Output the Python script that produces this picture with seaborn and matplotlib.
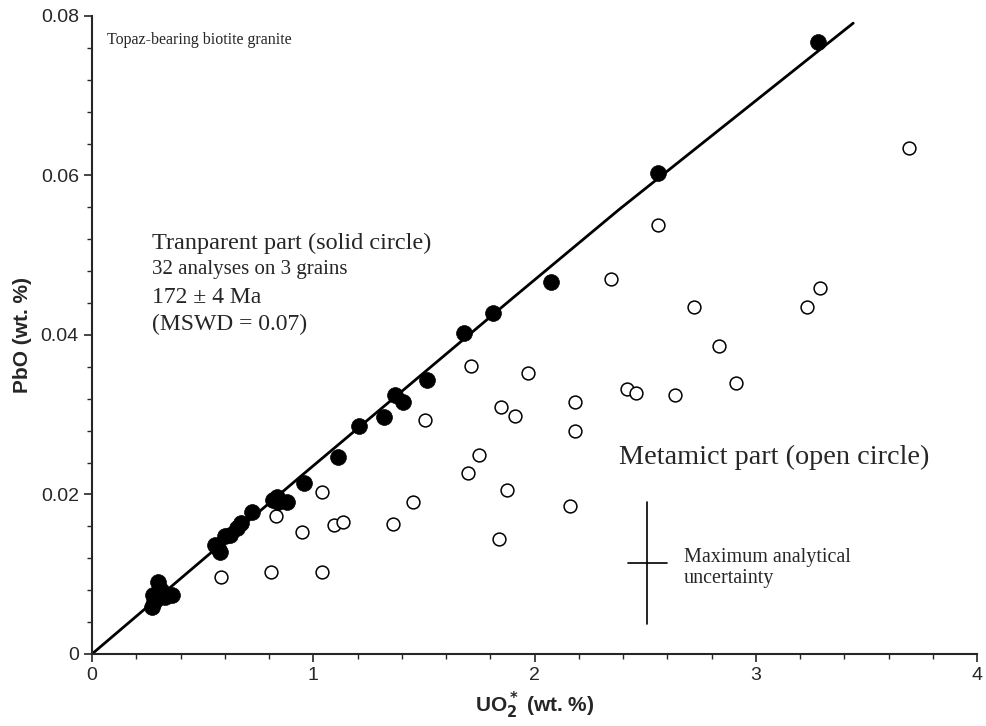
import matplotlib
matplotlib.use("Agg")
import matplotlib.pyplot as plt
from matplotlib.ticker import MultipleLocator, FuncFormatter
import seaborn as sns
import pandas as pd

# Transparent part (solid circles)
solid_uo2 = [0.27, 0.276, 0.28, 0.298, 0.30, 0.31, 0.33, 0.36, 0.556, 0.57, 0.578, 0.60,
             0.624, 0.655, 0.675, 0.723, 0.82, 0.835, 0.84, 0.88, 0.958, 1.112, 1.207,
             1.32, 1.37, 1.405, 1.512, 1.68, 1.812, 2.075, 2.557, 3.28]
solid_pbo = [0.0059, 0.0074, 0.0065, 0.0090, 0.0070, 0.0080, 0.0072, 0.0074, 0.0137, 0.0133,
             0.0128, 0.0148, 0.0149, 0.0158, 0.0164, 0.0178, 0.0193, 0.0197, 0.0190, 0.0190,
             0.0215, 0.0247, 0.0286, 0.0297, 0.0325, 0.0316, 0.0344, 0.0402, 0.0427, 0.0466,
             0.0603, 0.0767]

# Metamict part (open circles)
open_uo2 = [0.585, 0.81, 1.04, 0.83, 0.95, 1.04, 1.095, 1.135, 1.36, 1.45, 1.503, 1.70,
            1.713, 1.75, 1.84, 1.85, 1.875, 1.91, 1.97, 2.16, 2.185, 2.185, 2.345, 2.417,
            2.46, 2.56, 2.635, 2.72, 2.835, 2.91, 3.23, 3.29, 3.69]
open_pbo = [0.0097, 0.0103, 0.0103, 0.0173, 0.0153, 0.0203, 0.0162, 0.0165, 0.0163, 0.0190,
            0.0293, 0.0227, 0.0361, 0.0249, 0.0144, 0.0310, 0.0205, 0.0298, 0.0352, 0.0185,
            0.0316, 0.0280, 0.0470, 0.0332, 0.0327, 0.0538, 0.0325, 0.0435, 0.0386, 0.0340,
            0.0435, 0.0459, 0.0634]

# Isochron line
iso_uo2 = [0.0, 0.94, 1.90, 2.385, 3.44]
iso_pbo = [0.0, 0.0222, 0.0446, 0.0558, 0.0791]

# Maximum analytical uncertainty cross
err_x = 2.51
err_y = 0.0114
err_dx = 0.088
err_dy = 0.0076

sns.set_style("ticks")
plt.rcParams["font.family"] = ["Liberation Sans", "DejaVu Sans"]
plt.rcParams["mathtext.default"] = "bf"

fig = plt.figure(figsize=(9.87, 7.26), dpi=100)
ax = fig.add_axes([0.0932, 0.0992, 0.8968, 0.8788])

df_solid = pd.DataFrame({"UO2": solid_uo2, "PbO": solid_pbo})
df_open = pd.DataFrame({"UO2": open_uo2, "PbO": open_pbo})
df_iso = pd.DataFrame({"UO2": iso_uo2, "PbO": iso_pbo})

sns.lineplot(data=df_iso, x="UO2", y="PbO", sort=False, color="black", lw=2.0, ax=ax)
sns.scatterplot(data=df_open, x="UO2", y="PbO", s=85, facecolor="white",
                edgecolor="black", linewidth=1.1, ax=ax, zorder=3)
sns.scatterplot(data=df_solid, x="UO2", y="PbO", s=130, color="black",
                edgecolor="black", linewidth=0.5, ax=ax, zorder=4)

ax.plot([err_x, err_x], [err_y - err_dy, err_y + err_dy], color="black", lw=1.2)
ax.plot([err_x - err_dx, err_x + err_dx], [err_y, err_y], color="black", lw=1.2)

ax.set_xlim(0, 4)
ax.set_ylim(0, 0.08)
ax.xaxis.set_major_locator(MultipleLocator(1))
ax.xaxis.set_minor_locator(MultipleLocator(0.2))
ax.yaxis.set_major_locator(MultipleLocator(0.02))
ax.yaxis.set_minor_locator(MultipleLocator(0.004))
ax.xaxis.set_major_formatter(FuncFormatter(lambda v, p: f"{v:g}"))
ax.yaxis.set_major_formatter(FuncFormatter(lambda v, p: "0" if v == 0 else f"{v:.2f}"))
ax.tick_params(which="major", length=6, width=1.2, labelsize=14, direction="out")
ax.tick_params(which="minor", length=3.5, width=1.0, direction="out")
for sp in ["left", "bottom"]:
    ax.spines[sp].set_linewidth(1.5)
sns.despine(ax=ax)

ax.set_xlabel("UO$_2^*$ (wt. %)", fontsize=15, fontweight="bold",
              family=["Liberation Sans Narrow", "Liberation Sans"], labelpad=4)
ax.set_ylabel("PbO (wt. %)", fontsize=15, fontweight="bold",
              family=["Liberation Sans Narrow", "Liberation Sans"], labelpad=6)

serif = ["Liberation Serif", "DejaVu Serif"]
ax.text(0.07, 0.0770, "Topaz-bearing biotite granite", fontsize=11.5, family=serif,
        va="center", ha="left")
ax.text(0.27, 0.0515, "Tranparent part (solid circle)", fontsize=17.5, family=serif,
        va="center", ha="left")
ax.text(0.27, 0.0482, "32 analyses on 3 grains", fontsize=15, family=serif,
        va="center", ha="left")
ax.text(0.27, 0.0447, "172 \u00b1 4 Ma", fontsize=17, family=serif,
        va="center", ha="left")
ax.text(0.27, 0.0413, "(MSWD = 0.07)", fontsize=17, family=serif,
        va="center", ha="left")
ax.text(2.38, 0.0247, "Metamict part (open circle)", fontsize=20.3, family=serif,
        va="center", ha="left")
ax.text(2.675, 0.0121, "Maximum analytical", fontsize=14.5, family=serif,
        va="center", ha="left")
ax.text(2.675, 0.0095, "uncertainty", fontsize=14.5, family=serif,
        va="center", ha="left")

fig.savefig("out.png", dpi=100)
